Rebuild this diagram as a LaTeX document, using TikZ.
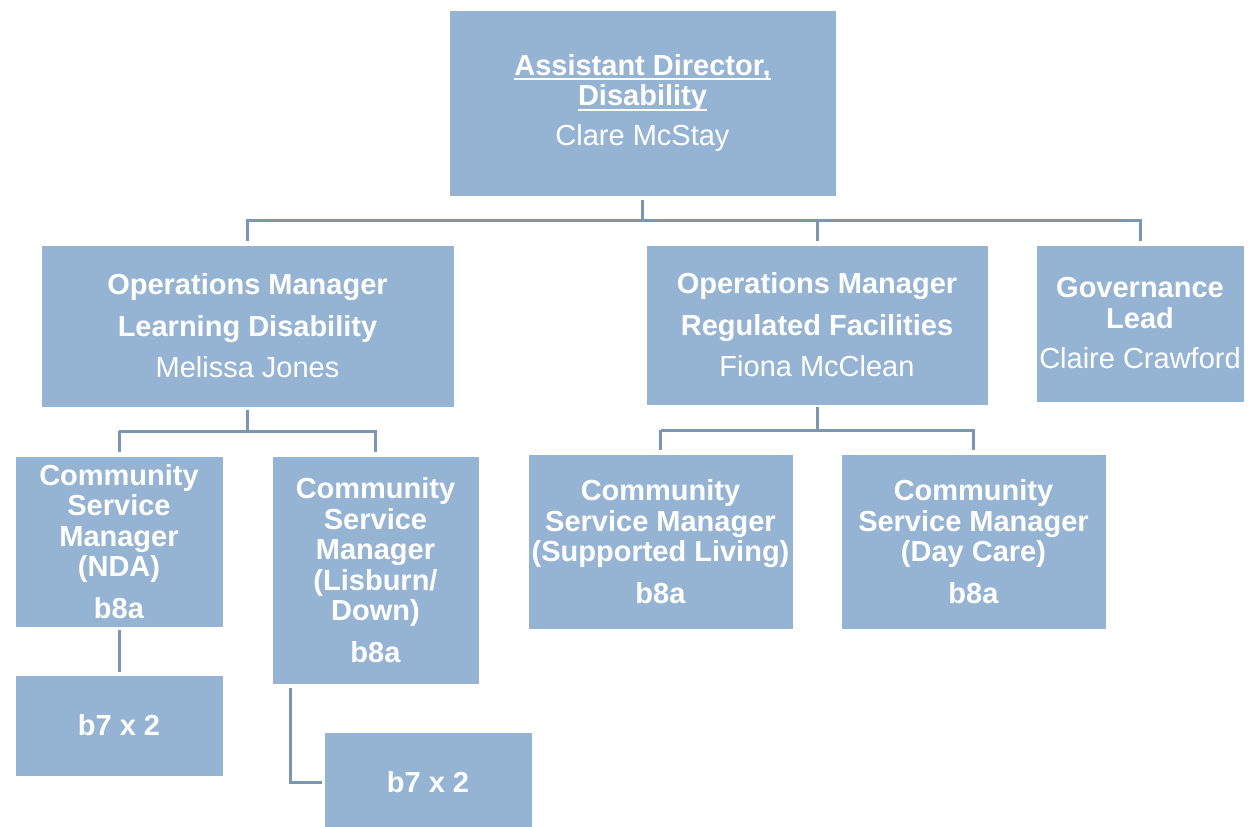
\documentclass[tikz,border=0pt]{standalone}
\usepackage{fontspec}
\setmainfont{Liberation Sans}
\definecolor{boxfill}{RGB}{149,179,210}
\definecolor{linkline}{RGB}{122,150,176}
% bold text with a heavier underline close to the baseline
\newcommand{\ulbold}[1]{\setbox0\hbox{\textbf{#1}}\rlap{\rule[-5pt]{\wd0}{2pt}}\box0}
\begin{document}
\begin{tikzpicture}[x=1pt,y=-1pt,
  post/.style={rectangle, fill=boxfill, draw=white, line width=0.6pt, inner sep=0pt,
    text=white, align=center, font=\fontsize{29}{30.5}\selectfont},
  conn/.style={draw=linkline, line width=3pt}]
\useasboundingbox (0,0) rectangle (1259,827);

% top level
\node[post, minimum width=387pt, minimum height=186pt] (top) at (642.5,103)
  {\ulbold{Assistant Director,}\\\ulbold{Disability}\\[9pt]Clare McStay};

% second level
\node[post, minimum width=413pt, minimum height=162pt] (omld) at (247.5,326)
  {\textbf{Operations Manager}\\[11pt]\textbf{Learning Disability}\\[11pt]Melissa Jones};
\node[post, minimum width=342pt, minimum height=160pt] (omrf) at (817,325)
  {\textbf{Operations Manager}\\[11pt]\textbf{Regulated Facilities}\\[11pt]Fiona McClean};
\node[post, minimum width=208pt, minimum height=157pt] (gov) at (1140,323.5)
  {\textbf{Governance}\\\textbf{Lead}\\[10pt]Claire Crawford};

% third level
\node[post, minimum width=208pt, minimum height=171pt] (csmnda) at (119,541.5)
  {\textbf{Community}\\\textbf{Service}\\\textbf{Manager}\\\textbf{(NDA)}\\[11pt]\textbf{b8a}};
\node[post, minimum width=207pt, minimum height=228pt] (csmlis) at (375.5,570)
  {\textbf{Community}\\\textbf{Service}\\\textbf{Manager}\\\textbf{(Lisburn/}\\\textbf{Down)}\\[11pt]\textbf{b8a}};
\node[post, minimum width=265pt, minimum height=175pt] (csmsl) at (660.5,541.5)
  {\textbf{Community}\\\textbf{Service Manager}\\\textbf{(Supported Living)}\\[11pt]\textbf{b8a}};
\node[post, minimum width=265pt, minimum height=175pt] (csmdc) at (973.5,541.5)
  {\textbf{Community}\\\textbf{Service Manager}\\\textbf{(Day Care)}\\[11pt]\textbf{b8a}};

% fourth level
\node[post, minimum width=208pt, minimum height=101pt] (b7nda) at (119,725.5) {\textbf{b7 x 2}};
\node[post, minimum width=208pt, minimum height=100pt] (b7lis) at (428,782) {\textbf{b7 x 2}};

% bus levels
\coordinate (busA) at (0,220);
\coordinate (busB) at (0,431);
\coordinate (busC) at (0,430);

% director to second level
\draw[conn, shorten <=4pt] (top.south) -- (top.south |- busA);
\draw[conn, shorten >=4pt] (omld.north) ++(0,-5) |- (busA -| gov.north) -- (gov.north);
\draw[conn, shorten >=4pt] (omld.north |- busA) -- (omld.north);
\draw[conn, shorten >=4pt] (omrf.north |- busA) -- (omrf.north);

% learning disability team
\draw[conn, shorten <=3pt] (omld.south) -- (omld.south |- busB);
\draw[conn, shorten >=4pt] (csmnda.north |- busB) -| (csmlis.north);
\draw[conn, shorten >=4pt] (csmnda.north |- busB) -- (csmnda.north);

% regulated facilities team
\draw[conn, shorten <=2pt] (omrf.south) -- (omrf.south |- busC);
\draw[conn, shorten >=4pt] (csmsl.north |- busC) -| (csmdc.north);
\draw[conn, shorten >=4pt] (csmsl.north |- busC) -- (csmsl.north);

% band 7 posts
\draw[conn, shorten <=3pt, shorten >=3pt] (csmnda.south) -- (b7nda.north);
\draw[conn, shorten >=2pt] ([xshift=19pt,yshift=-4pt]csmlis.south west) |- (b7lis.west);
\end{tikzpicture}
\end{document}
